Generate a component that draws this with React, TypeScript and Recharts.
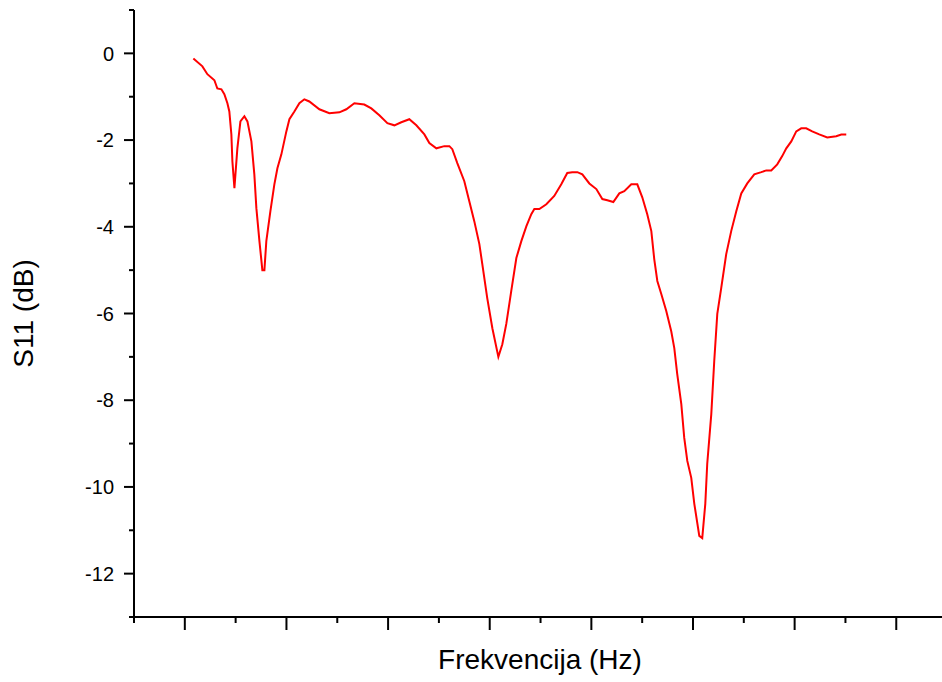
import React from 'react';
import { LineChart, Line, XAxis, YAxis } from 'recharts';

const frequencies = [
  1.084, 1.173, 1.222, 1.291, 1.32, 1.36, 1.389, 1.419, 1.438, 1.458, 1.468, 1.488,
  1.517, 1.547, 1.586, 1.616, 1.655, 1.684, 1.704, 1.734, 1.763, 1.783, 1.802, 1.842,
  1.881, 1.911, 1.95, 1.999, 2.029, 2.078, 2.127, 2.176, 2.225, 2.324, 2.422, 2.521,
  2.589, 2.668, 2.766, 2.835, 2.914, 2.993, 3.062, 3.13, 3.209, 3.278, 3.357, 3.406,
  3.475, 3.553, 3.603, 3.632, 3.681, 3.75, 3.799, 3.848, 3.898, 3.927, 3.976, 4.026,
  4.085, 4.124, 4.163, 4.212, 4.262, 4.311, 4.36, 4.409, 4.439, 4.488, 4.557, 4.635,
  4.704, 4.763, 4.812, 4.862, 4.911, 4.98, 5.049, 5.108, 5.157, 5.216, 5.275, 5.324,
  5.393, 5.452, 5.501, 5.55, 5.59, 5.619, 5.649, 5.688, 5.737, 5.786, 5.816, 5.845,
  5.885, 5.914, 5.944, 5.983, 6.013, 6.062, 6.091, 6.121, 6.14, 6.18, 6.209, 6.239,
  6.278, 6.327, 6.376, 6.426, 6.475, 6.534, 6.603, 6.672, 6.721, 6.77, 6.829, 6.878,
  6.918, 6.967, 7.016, 7.065, 7.114, 7.173, 7.242, 7.321, 7.409, 7.459, 7.508,
];

const s11 = [
  -0.12, -0.3, -0.48, -0.62, -0.81, -0.83, -0.94, -1.15, -1.34, -1.87, -2.49, -3.11,
  -2.19, -1.57, -1.45, -1.57, -2.03, -2.79, -3.57, -4.33, -5.0, -5.0, -4.33, -3.64,
  -3.02, -2.65, -2.33, -1.8, -1.52, -1.34, -1.15, -1.06, -1.11, -1.29, -1.38, -1.36,
  -1.29, -1.15, -1.18, -1.27, -1.43, -1.61, -1.66, -1.59, -1.52, -1.66, -1.87, -2.07,
  -2.19, -2.14, -2.14, -2.21, -2.53, -2.95, -3.41, -3.87, -4.4, -4.86, -5.65, -6.34,
  -7.0, -6.71, -6.24, -5.48, -4.72, -4.33, -3.99, -3.71, -3.59, -3.59, -3.48, -3.29,
  -3.02, -2.76, -2.74, -2.74, -2.79, -3.0, -3.13, -3.36, -3.39, -3.43, -3.23, -3.18,
  -3.02, -3.02, -3.32, -3.71, -4.1, -4.75, -5.25, -5.55, -5.94, -6.41, -6.8, -7.4,
  -8.09, -8.87, -9.4, -9.79, -10.39, -11.13, -11.18, -10.39, -9.47, -8.32, -7.1, -6.01,
  -5.41, -4.63, -4.1, -3.64, -3.23, -3.0, -2.79, -2.74, -2.7, -2.7, -2.56, -2.37,
  -2.19, -2.03, -1.8, -1.73, -1.73, -1.8, -1.87, -1.94, -1.91, -1.87, -1.87,
];

const xTicks = [0.5, 1, 1.5, 2, 2.5, 3, 3.5, 4, 4.5, 5, 5.5, 6, 6.5, 7, 7.5, 8];
const yTicks = [1, 0, -1, -2, -3, -4, -5, -6, -7, -8, -9, -10, -11, -12, -13];
const yLabelValues = [0, -2, -4, -6, -8, -10, -12];

const xTitle = 'Frekvencija (Hz)';
const yTitle = 'S11 (dB)';

const data = frequencies.map((f, i) => ({ f, s11: s11[i] }));

const FONT = 'Arial, "Liberation Sans", sans-serif';

const XTick = (props: any) => {
  const { x, y, payload } = props;
  const major = Number.isInteger(payload.value);
  return (
    <line x1={x} y1={y} x2={x} y2={y + (major ? 13 : 6)} stroke="#000" strokeWidth={2} />
  );
};

const YTick = (props: any) => {
  const { x, y, payload } = props;
  const major = payload.value % 2 === 0;
  const showLabel = yLabelValues.includes(payload.value);
  return (
    <g>
      <line x1={x - (major ? 10 : 5)} y1={y} x2={x} y2={y} stroke="#000" strokeWidth={2} />
      {showLabel && (
        <text
          x={x - 20}
          y={y}
          dy="0.36em"
          textAnchor="end"
          fontFamily={FONT}
          fontSize={20}
          fill="#000"
        >
          {String(payload.value)}
        </text>
      )}
    </g>
  );
};

export default function App() {
  return (
    <div style={{ position: 'absolute', left: 0, top: 0, width: 942, height: 682, background: '#fff' }}>
      <LineChart
        width={942}
        height={682}
        data={data}
        margin={{ top: 10, right: 0, bottom: 0, left: 0 }}
      >
        <XAxis
          dataKey="f"
          type="number"
          domain={[0.5, 8.45]}
          ticks={xTicks}
          interval={0}
          allowDataOverflow
          height={65}
          tickSize={0}
          tickMargin={0}
          tickLine={false}
          axisLine={{ stroke: '#000', strokeWidth: 2 }}
          tick={<XTick />}
          label={{
            content: (p: any) => {
              const vb = p.viewBox;
              return (
                <text
                  x={vb.x + vb.width / 2 + 2}
                  y={vb.y + 52}
                  textAnchor="middle"
                  fontFamily={FONT}
                  fontSize={28}
                  fill="#000"
                >
                  {xTitle}
                </text>
              );
            },
          }}
        />
        <YAxis
          type="number"
          domain={[-13, 1]}
          ticks={yTicks}
          interval={0}
          allowDataOverflow
          width={134}
          tickSize={0}
          tickMargin={0}
          tickLine={false}
          axisLine={{ stroke: '#000', strokeWidth: 2 }}
          tick={<YTick />}
          label={{
            content: (p: any) => {
              const vb = p.viewBox;
              const cy = vb.y + vb.height / 2;
              return (
                <text
                  transform={`translate(33, ${cy}) rotate(-90)`}
                  textAnchor="middle"
                  fontFamily={FONT}
                  fontSize={28}
                  fill="#000"
                >
                  {yTitle}
                </text>
              );
            },
          }}
        />
        <Line
          type="linear"
          dataKey="s11"
          stroke="#ff0000"
          strokeWidth={2}
          dot={false}
          isAnimationActive={false}
        />
      </LineChart>
    </div>
  );
}
